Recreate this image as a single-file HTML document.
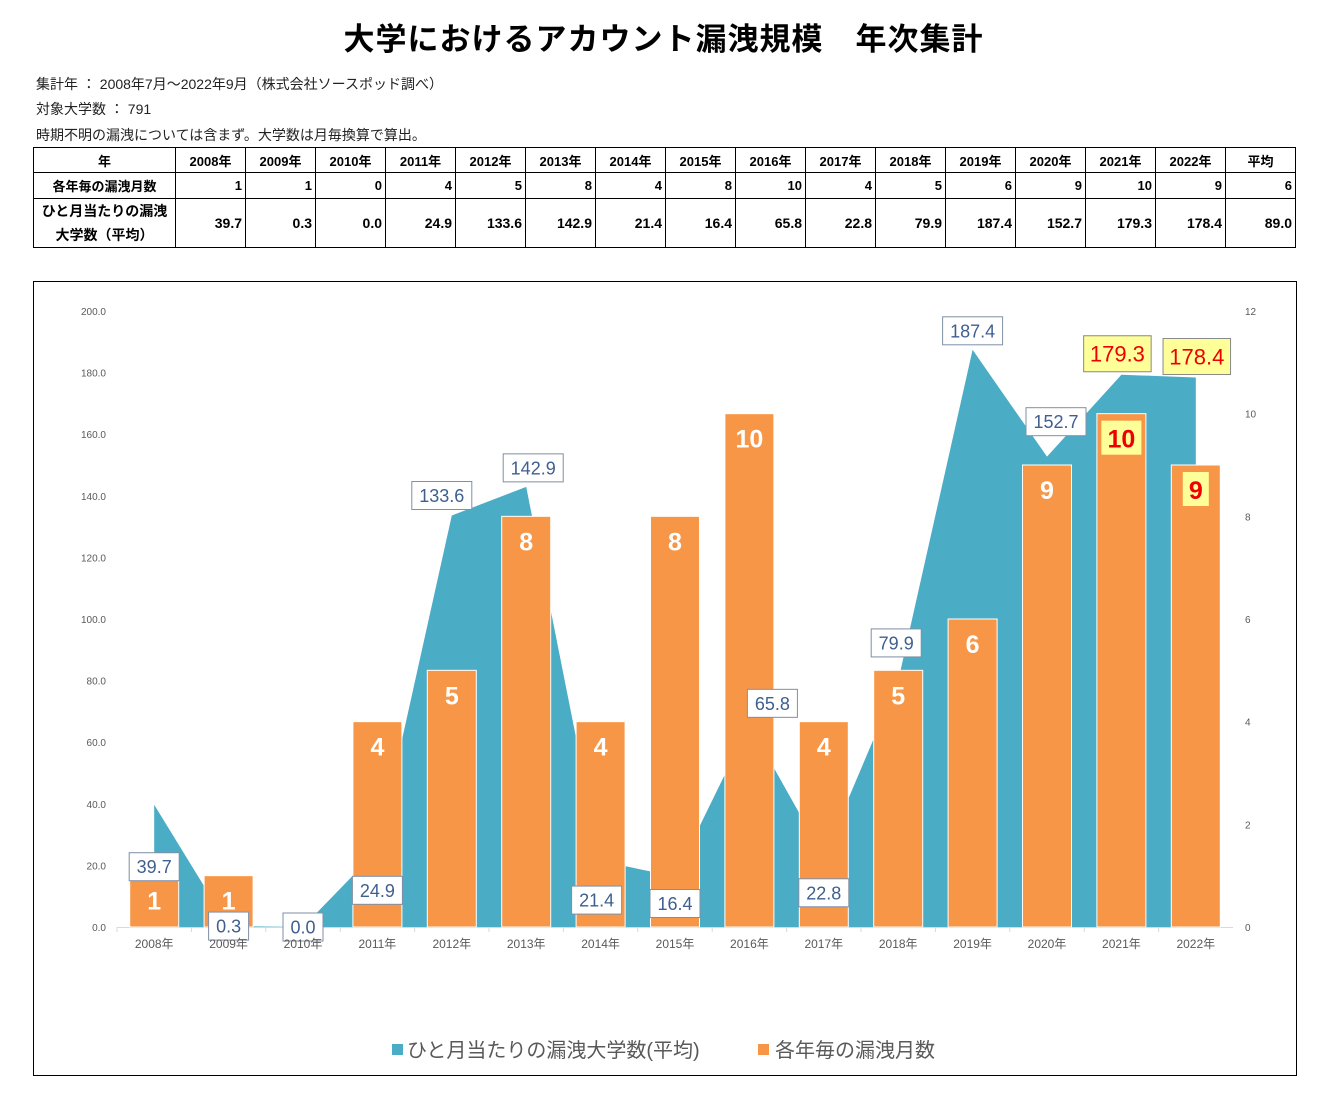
<!DOCTYPE html>
<html><head><meta charset="utf-8">
<style>
body{margin:0;width:1327px;height:1096px;background:#fff;font-family:"Liberation Sans","Noto Sans CJK JP",sans-serif;position:relative;overflow:hidden}
.t{position:absolute;white-space:nowrap}
table{position:absolute;left:33px;top:147px;border-collapse:collapse;font-size:13px;font-weight:bold;color:#000}
td{border:1px solid #000;padding:0 3px;text-align:right;width:63px}
td.h{text-align:center}
td.f{width:135px;text-align:center}
</style></head><body>
<div class="t" style="left:0;width:1327px;text-align:center;top:14px;font-size:31px;font-weight:bold;letter-spacing:1px">大学におけるアカウント漏洩規模　年次集計</div>
<div class="t" style="left:36px;top:74px;font-size:14px;color:#222">集計年 ： 2008年7月～2022年9月（株式会社ソースポッド調べ）</div>
<div class="t" style="left:36px;top:99px;font-size:14px;color:#222">対象大学数 ： 791</div>
<div class="t" style="left:36px;top:125px;font-size:14px;color:#222">時期不明の漏洩については含まず。大学数は月毎換算で算出。</div>
<table id="tbl"></table>
<svg id="chart" width="1327" height="1096" style="position:absolute;left:0;top:0;pointer-events:none"></svg>
<script>
const categories=["2008年","2009年","2010年","2011年","2012年","2013年","2014年","2015年","2016年","2017年","2018年","2019年","2020年","2021年","2022年"];
const months=[1,1,0,4,5,8,4,8,10,4,5,6,9,10,9];
const avgUniv=[39.7,0.3,0.0,24.9,133.6,142.9,21.4,16.4,65.8,22.8,79.9,187.4,152.7,179.3,178.4];
const leftTicks=[0,20,40,60,80,100,120,140,160,180,200];
const rightTicks=[0,2,4,6,8,10,12];
const tableAvgMonths="6", tableAvgUniv="89.0";
// label offsets (style only)
const lblDx=[0,0,0,0,-10,7,-4,0,23,0,-2,0,9,-4,1];
const lblDy=[62,0,0,40,-20,-19,39,27,-21,36,-38,-19,-35,-21,-21];

const tbl=document.getElementById('tbl');
let h='<tr><td class="f h">年</td>'+categories.map(c=>'<td class="h">'+c+'</td>').join('')+'<td class="h">平均</td></tr>';
h+='<tr style="height:26px"><td class="f">各年毎の漏洩月数</td>'+months.map(v=>'<td>'+v+'</td>').join('')+'<td>'+tableAvgMonths+'</td></tr>';
h+='<tr style="height:47px"><td class="f" style="line-height:24px;font-size:14px">ひと月当たりの漏洩<br>大学数（平均）</td>'+avgUniv.map(v=>'<td style="font-size:14px">'+v.toFixed(1)+'</td>').join('')+'<td style="font-size:14px">'+tableAvgUniv+'</td></tr>';
tbl.innerHTML=h;
tbl.rows[0].style.height='25px';

const svg=document.getElementById('chart');
const NS='http://www.w3.org/2000/svg';
function mk(tag,attrs,parent){const e=document.createElementNS(NS,tag);for(const k in attrs)e.setAttribute(k,attrs[k]);(parent||svg).appendChild(e);return e;}
const x0=117,x1=1233,y0=927,yTop=311;
const step=(x1-x0)/categories.length;
const X=i=>x0+step*(i+0.5);
const YL=v=>y0-(v/200)*(y0-yTop);
const YR=v=>y0-(v/12)*(y0-yTop);

const frame=mk('rect',{x:33.5,y:281.5,width:1263,height:794,fill:'none',stroke:'#000','stroke-width':1});



leftTicks.forEach(v=>{const t=mk('text',{x:106,y:YL(v)+4,'text-anchor':'end','font-size':10,fill:'#595959'});t.textContent=v.toFixed(1);

});
rightTicks.forEach(v=>{const t=mk('text',{x:1245,y:YR(v)+4,'font-size':10,fill:'#595959'});t.textContent=v;

});

let d='M'+X(0)+','+y0;
avgUniv.forEach((v,i)=>{d+=' L'+X(i)+','+YL(v);});
d+=' L'+X(avgUniv.length-1)+','+y0+' Z';
const area=mk('path',{d:d,fill:'#4BACC6'});



mk('line',{x1:x0,x2:x1,y1:y0+0.5,y2:y0+0.5,stroke:'#d9d9d9'});
categories.forEach((c,i)=>{
  mk('line',{x1:x0+step*i,x2:x0+step*i,y1:y0,y2:y0+5,stroke:'#d9d9d9'});
});

const bw=49;
months.forEach((v,i)=>{
  if(v<=0)return;
  const r=mk('rect',{x:X(i)-bw/2,y:YR(v),width:bw,height:y0-YR(v),fill:'#F79646',stroke:'#fff','stroke-width':1});
  
  
  const special=i>=13;
  const ty=YR(v)+34;
  if(special){
    const w=String(v).length*14+12;
    mk('rect',{x:X(i)-w/2,y:ty-27,width:w,height:34,fill:'#FFFF99'});
  }
  const t=mk('text',{x:X(i),y:ty,'text-anchor':'middle','font-size':25,'font-weight':'bold',fill:special?'#E00':'#fff'});
  t.textContent=v;
  
  
});

avgUniv.forEach((v,i)=>{
  const cx=X(i)+lblDx[i], cy=YL(v)+lblDy[i];
  const s=v.toFixed(1);
  const special=i>=13;
  const fs=special?22:18;
  const w=s.length*(special?11.5:10)+10, hh=special?36:28;
  mk('rect',{x:cx-w/2,y:cy-hh/2,width:w,height:hh,fill:special?'#FFFF99':'#fff',stroke:special?'#888':'#7f8fa6','stroke-width':1});
  const t=mk('text',{x:cx,y:cy+fs*0.36,'text-anchor':'middle','font-size':fs,fill:special?'#E00':'#3F5F8F'});
  t.textContent=s;
  
  
});

categories.forEach((c,i)=>{
  const t=mk('text',{x:X(i),y:y0+21,'text-anchor':'middle','font-size':12,fill:'#595959'});t.textContent=c;
  
  
});

const lg=mk('g',{});


mk('rect',{x:392,y:1044,width:11,height:11,fill:'#4BACC6'},lg);
const l1=mk('text',{x:407,y:1057,'font-size':20,fill:'#595959'},lg);l1.textContent='ひと月当たりの漏洩大学数(平均)';


mk('rect',{x:758,y:1044,width:11,height:11,fill:'#F79646'},lg);
const l2=mk('text',{x:775,y:1057,'font-size':20,fill:'#595959'},lg);l2.textContent='各年毎の漏洩月数';


</script>
</body></html>
